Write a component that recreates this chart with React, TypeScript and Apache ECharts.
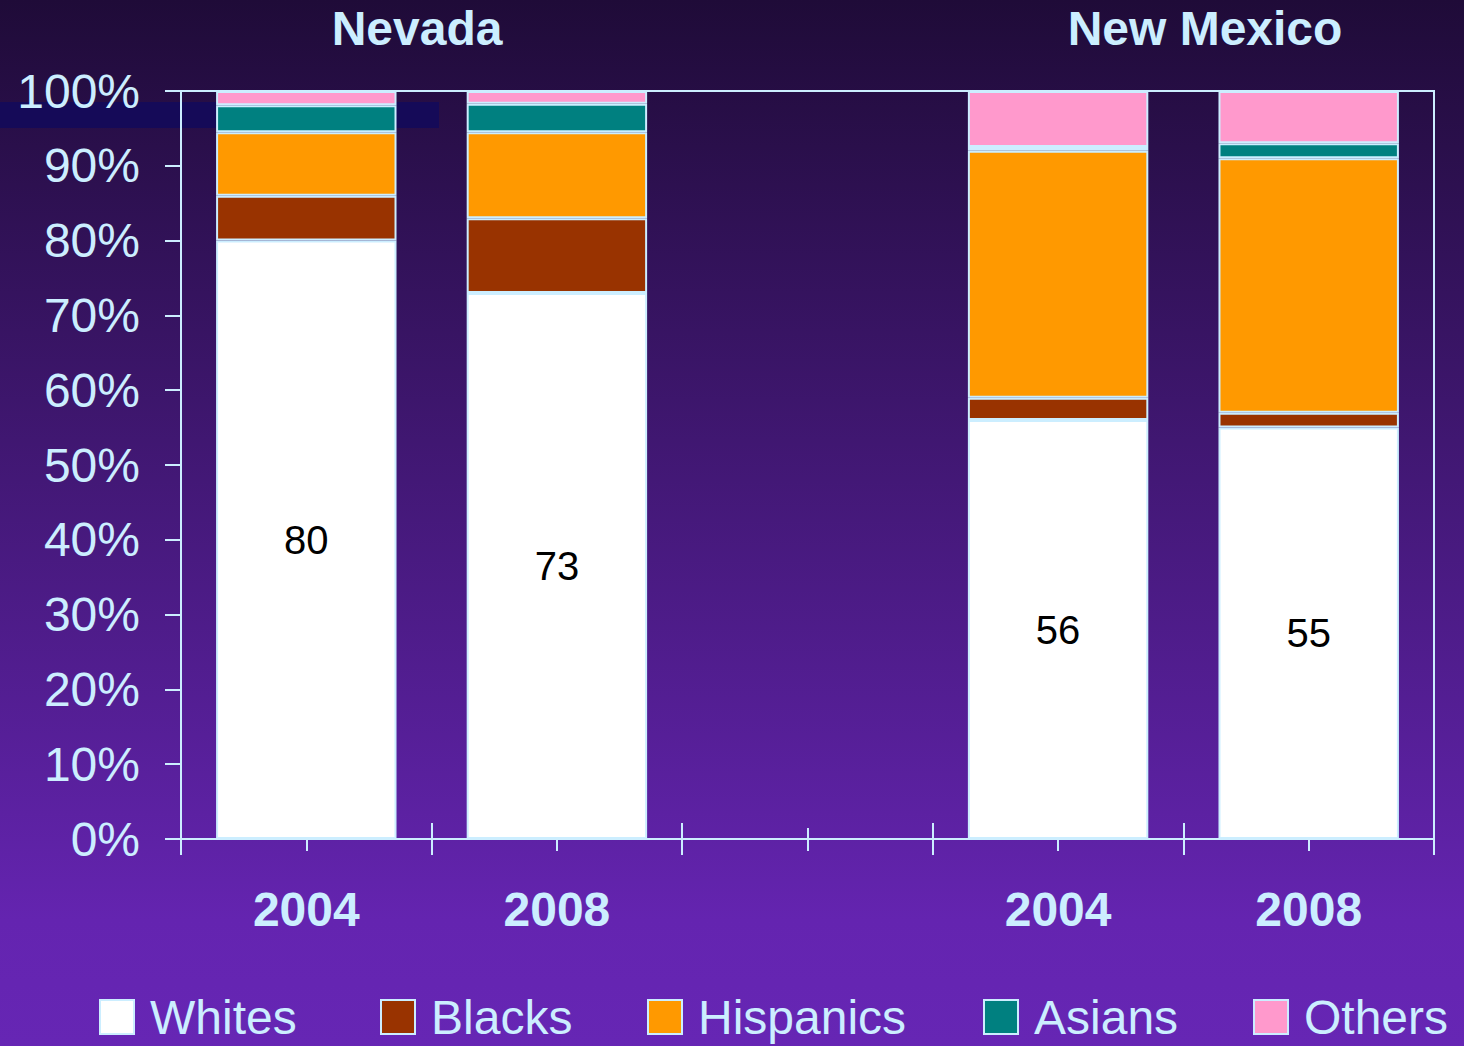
import React, { useEffect, useRef } from "react";
import * as echarts from "echarts";

const categories = ["Nevada 2004", "Nevada 2008", "gap", "New Mexico 2004", "New Mexico 2008"];
const yearLabels = ["2004", "2008", "", "2004", "2008"];
const stateTitles = ["Nevada", "New Mexico"];
const seriesNames = ["Whites", "Blacks", "Hispanics", "Asians", "Others"];
const whites = [80, 73, null, 56, 55];
const blacks = [6, 10, null, 3, 2];
const hispanics = [8.5, 11.5, null, 33, 34];
const asians = [3.6, 3.8, null, 0.5, 2];
const others = [1.9, 1.7, null, 7.5, 7];
const yTicks = { min: 0, max: 100, interval: 10 };

const LIGHT = "#cceeff";
const FONT = '"Liberation Sans", Arial, sans-serif';
const colors = ["#ffffff", "#993300", "#ff9900", "#008080", "#ff99cc"];
const legendLefts = [99, 380, 647, 983, 1253];

export default function App() {
  const ref = useRef<HTMLDivElement>(null);
  useEffect(() => {
    document.body.style.margin = "0";
    const chart = echarts.init(ref.current!, null, { renderer: "svg" });
    const values = [whites, blacks, hispanics, asians, others];
    const tickStyle = { color: LIGHT, width: 2 };
    const baseX = {
      type: "category",
      data: categories,
      position: "bottom",
      boundaryGap: true,
      axisLine: { show: false },
      axisLabel: { show: false },
      splitLine: { show: false },
    };
    chart.setOption({
      animation: false,
      backgroundColor: "transparent",
      textStyle: { fontFamily: FONT },
      grid: {
        left: 181,
        right: 30,
        top: 91,
        bottom: 207,
        show: true,
        borderColor: LIGHT,
        borderWidth: 2,
        backgroundColor: "transparent",
        containLabel: false,
      },
      graphic: [
        {
          type: "rect",
          z: -10,
          shape: { x: 0, y: 102, width: 439, height: 26 },
          style: { fill: "#150a58" },
        },
        {
          type: "text",
          x: 417,
          y: 28,
          style: {
            text: stateTitles[0],
            fill: LIGHT,
            fontSize: 48,
            fontWeight: "bold",
            fontFamily: FONT,
            align: "center",
            verticalAlign: "middle",
          },
        },
        {
          type: "text",
          x: 1205,
          y: 28,
          style: {
            text: stateTitles[1],
            fill: LIGHT,
            fontSize: 48,
            fontWeight: "bold",
            fontFamily: FONT,
            align: "center",
            verticalAlign: "middle",
          },
        },
      ],
      legend: seriesNames.map((name, k) => ({
        left: legendLefts[k],
        top: 993,
        padding: 0,
        itemWidth: 34,
        itemHeight: 34,
        itemGap: 0,
        icon: "rect",
        data: [name],
        textStyle: {
          color: LIGHT,
          fontSize: 48,
          lineHeight: 48,
          fontFamily: FONT,
          padding: [0, 0, 0, 11],
        },
      })),
      xAxis: [
        {
          ...baseX,
          axisLine: { show: true, lineStyle: tickStyle },
          axisTick: { show: true, interval: 0, length: 16, lineStyle: tickStyle },
          axisLabel: {
            show: true,
            interval: 0,
            formatter: (_v: string, i: number) => yearLabels[i],
            color: LIGHT,
            fontSize: 48,
            fontWeight: "bold",
            fontFamily: FONT,
            margin: 46,
          },
        },
        {
          ...baseX,
          axisTick: { show: true, interval: 0, inside: true, length: 16, lineStyle: tickStyle },
        },
        {
          ...baseX,
          axisTick: { show: true, interval: 0, alignWithLabel: true, length: 12, lineStyle: tickStyle },
        },
        {
          ...baseX,
          axisTick: { show: true, interval: 0, alignWithLabel: true, inside: true, length: 11, lineStyle: tickStyle },
        },
      ],
      yAxis: {
        type: "value",
        min: yTicks.min,
        max: yTicks.max,
        interval: yTicks.interval,
        axisLine: { show: true, lineStyle: tickStyle },
        axisTick: { show: true, length: 16, lineStyle: tickStyle },
        splitLine: { show: false },
        axisLabel: {
          formatter: "{value}%",
          color: LIGHT,
          fontSize: 48,
          fontFamily: FONT,
          margin: 41,
        },
      },
      series: seriesNames.map((name, k) => ({
        name,
        type: "bar",
        stack: "total",
        xAxisIndex: 0,
        barWidth: "72%",
        data: values[k].map((v) => (v === null ? "-" : v)),
        itemStyle: { color: colors[k], borderColor: LIGHT, borderWidth: 2 },
        label:
          k === 0
            ? {
                show: true,
                position: "inside",
                color: "#000000",
                fontSize: 40,
                fontFamily: FONT,
                formatter: "{c}",
              }
            : { show: false },
      })),
    });
    return () => chart.dispose();
  }, []);
  return (
    <div
      ref={ref}
      style={{
        position: "absolute",
        left: 0,
        top: 0,
        width: 1464,
        height: 1046,
        background: "linear-gradient(to bottom, #1f0b38 0%, #6424b0 88%, #6626b4 100%)",
      }}
    />
  );
}
